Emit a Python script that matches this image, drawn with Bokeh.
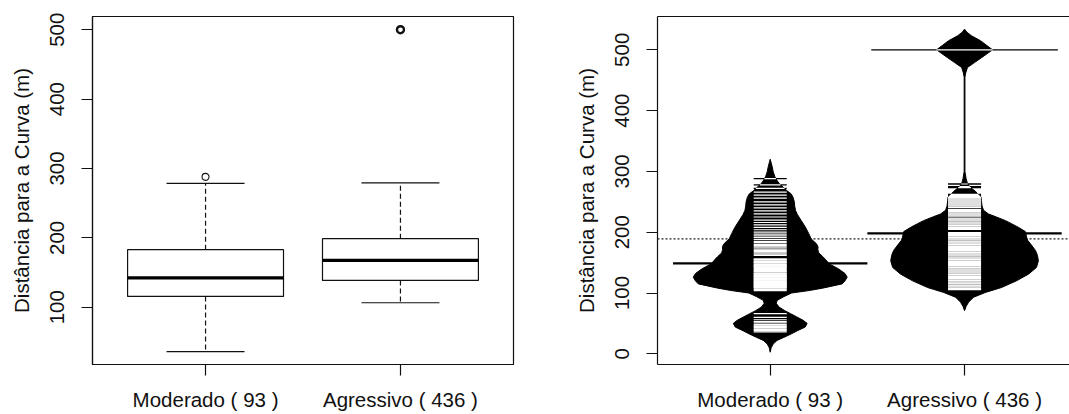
import numpy as np
from bokeh.plotting import figure
from bokeh.layouts import row
from bokeh.models import FixedTicker, Range1d, Span, LinearAxis
from bokeh.embed import file_html
from bokeh.resources import INLINE

# ---------------- data ----------------
categories = ["Moderado", "Agressivo"]
group_sizes = [93, 436]
positions = [1, 2]
tick_labels = {p: f"{c} ( {n} )" for p, c, n in zip(positions, categories, group_sizes)}
y_title = "Distância para a Curva (m)"
y_ticks_left = [100, 200, 300, 400, 500]
y_ticks_right = [0, 100, 200, 300, 400, 500]

# boxplot statistics (left panel)
box_lower_whisker = [36.1, 106.5]
box_q1 = [115.6, 138.7]
box_median = [142.2, 167.6]
box_q3 = [183.0, 198.8]
box_upper_whisker = [278.4, 279.3]
outlier_group = [1, 2]
outlier_value = [287.9, 500.0]
outlier_count = [1, 35]

# beanplot (right panel)
bean_means = [148.8, 198.2]
overall_mean = 189.0

moderado_density_y = [2.6, 10, 16, 22, 27, 33, 38, 44, 50, 55, 61, 66, 71, 77, 83, 88, 94, 100,
                      104, 108, 115, 120, 126, 132, 140, 148, 155, 160, 166, 171, 176, 181, 189,
                      198, 209, 219, 229, 236, 243, 250, 257, 263, 268, 274, 280, 286, 292, 300,
                      308, 314, 320]
moderado_density_w = [0, 0.005, 0.015, 0.035, 0.07, 0.11, 0.14, 0.18, 0.19, 0.17, 0.135, 0.105,
                      0.075, 0.045, 0.031, 0.036, 0.07, 0.11, 0.2, 0.27, 0.37, 0.385, 0.396, 0.385,
                      0.35, 0.303, 0.285, 0.27, 0.25, 0.245, 0.246, 0.238, 0.211, 0.198, 0.18,
                      0.16, 0.14, 0.13, 0.126, 0.124, 0.118, 0.108, 0.087, 0.067, 0.046, 0.033,
                      0.023, 0.015, 0.010, 0.005, 0]

agressivo_density_y = [71, 78, 85, 93, 101, 109, 120, 131, 142, 153, 162, 170, 181, 187, 192, 197,
                       201, 208, 214, 219, 225, 230, 236, 243, 252, 258, 263, 267, 271, 275, 280,
                       288, 300, 455, 462, 471, 479, 487, 494, 500, 507, 515, 523, 529, 534]
agressivo_density_w = [0, 0.008, 0.021, 0.046, 0.108, 0.19, 0.267, 0.329, 0.37, 0.38, 0.375, 0.365,
                       0.339, 0.324, 0.319, 0.316, 0.313, 0.277, 0.242, 0.211, 0.164, 0.123, 0.098,
                       0.09, 0.087, 0.085, 0.067, 0.057, 0.041, 0.026, 0.015, 0.008, 0.002, 0.002,
                       0.006, 0.015, 0.051, 0.087, 0.118, 0.144, 0.115, 0.082, 0.036, 0.012, 0]

moderado_values = [36, 38, 40, 41, 43, 45, 46, 48, 51, 53, 56, 60, 66,
                   104, 106, 108, 109, 110, 111, 112, 113, 114, 115,
                   116, 117, 118, 119, 120, 121, 122, 123, 124, 125, 126, 127, 128, 129, 130, 131,
                   132, 133, 135, 136, 137, 139, 140,
                   142, 143, 144, 145, 146, 147, 149, 150, 151, 152, 154, 155, 156, 162, 164, 166,
                   168, 170, 172, 174, 176, 178, 180,
                   183, 185, 188, 191, 194, 197, 200, 204, 208, 212, 216, 220, 225, 230, 235, 240,
                   245, 250, 256, 261, 266, 272, 278, 288]

agressivo_values = [105.6, 107.2, 108.5, 110.3, 111.8, 113.1, 114.9, 116.4, 117.7, 119.5, 120.8,
                    122.6, 124.0, 125.3, 127.1, 128.4, 130.2, 131.5, 133.3, 134.6, 136.4, 137.8,
                    139.1, 140.9, 142.2, 144.0, 145.3, 147.1, 148.6, 149.9, 151.7, 153.0, 154.8,
                    156.1, 157.9, 159.2, 161.0, 162.5, 163.8, 165.6, 166.9, 168.7, 170.0, 171.8,
                    173.3, 174.6, 176.4, 177.7, 179.5, 180.8, 182.6, 184.1, 185.4, 187.2, 188.5,
                    190.3, 191.6, 193.4, 194.9, 196.2, 198.0, 199.3,
                    204.5, 205.9, 207.6, 209.0, 210.8, 212.1, 213.9, 215.3, 216.8, 218.4, 219.9,
                    221.5, 223.0, 226.6, 228.1, 229.7, 231.2, 232.8, 234.3, 235.9, 237.2,
                    240.4, 241.9, 243.5, 245.0, 246.6, 248.1, 249.7, 251.2, 252.8, 254.3, 255.9,
                    257.4, 259.0, 260.5, 262.1, 273.2, 275.1, 279.3]
agressivo_tie_values = [500.0]
agressivo_tie_counts = [35]

# ---------------- style ----------------
FONT = "Liberation Sans"
FS = "20.5px"
INK = "#111111"
H = 414
TOP = 16
FRAME_H = 348


def style_axes(p, yticks):
    p.xaxis.ticker = FixedTicker(ticks=positions)
    p.xaxis.major_label_overrides = tick_labels
    p.yaxis.ticker = FixedTicker(ticks=yticks)
    p.yaxis.major_label_orientation = "parallel"
    p.yaxis.axis_label = y_title
    for ax in (p.xaxis[0], p.yaxis[0]):
        ax.axis_line_color = INK
        ax.axis_line_width = 1.2
        ax.major_tick_line_color = INK
        ax.major_tick_line_width = 1.2
        ax.major_tick_out = 11
        ax.major_tick_in = 0
        ax.minor_tick_line_color = None
        ax.major_label_text_font = FONT
        ax.major_label_text_font_size = FS
        ax.major_label_text_color = INK
        ax.axis_label_text_font = FONT
        ax.axis_label_text_font_size = FS
        ax.axis_label_text_font_style = "normal"
        ax.axis_label_text_color = INK
    p.xaxis.major_label_standoff = 12
    p.yaxis.major_label_standoff = 17
    p.yaxis.axis_label_standoff = 15
    p.xgrid.visible = False
    p.ygrid.visible = False


# ---------------- left: boxplot ----------------
W1 = 538
p1 = figure(width=W1, height=H, output_backend="svg", toolbar_location=None,
            x_range=Range1d(0.42, 2.58), y_range=Range1d(17.5, 519.0),
            min_border_left=92, min_border_right=25, min_border_top=TOP,
            min_border_bottom=H - TOP - FRAME_H)
p1.outline_line_color = INK
p1.outline_line_width = 1.2
style_axes(p1, y_ticks_left)

xs = np.array(positions, dtype=float)
# whiskers (dashed)
p1.segment(x0=xs, x1=xs, y0=box_q3, y1=box_upper_whisker, line_color=INK, line_width=1.2, line_dash="5 3")
p1.segment(x0=xs, x1=xs, y0=box_q1, y1=box_lower_whisker, line_color=INK, line_width=1.2, line_dash="5 3")
# staples
p1.segment(x0=xs - 0.2, x1=xs + 0.2, y0=box_upper_whisker, y1=box_upper_whisker, line_color=INK, line_width=1.2)
p1.segment(x0=xs - 0.2, x1=xs + 0.2, y0=box_lower_whisker, y1=box_lower_whisker, line_color=INK, line_width=1.2)
# boxes
p1.quad(left=xs - 0.4, right=xs + 0.4, bottom=box_q1, top=box_q3, fill_color="white",
        line_color=INK, line_width=1.2)
p1.segment(x0=xs - 0.4, x1=xs + 0.4, y0=box_median, y1=box_median, line_color="black", line_width=3.2)
# outliers
out_lw = [1.1 if n == 1 else 2.4 for n in outlier_count]
p1.scatter(x=outlier_group, y=outlier_value, marker="circle", size=7, fill_color=None,
           line_color=INK, line_width=out_lw)

# ---------------- right: beanplot ----------------
W2 = 1069 - W1
p2 = figure(width=W2, height=H, output_backend="svg", toolbar_location=None,
            x_range=Range1d(0.42, 2.54), y_range=Range1d(-17.6, 554.8),
            min_border_left=657 - W1, min_border_right=0, min_border_top=TOP,
            min_border_bottom=H - TOP - FRAME_H)
p2.outline_line_color = None
style_axes(p2, y_ticks_right)
top_axis = LinearAxis(ticker=FixedTicker(ticks=[]), major_tick_out=0, major_tick_in=0,
                      minor_tick_out=0, minor_tick_in=0, major_label_standoff=0,
                      axis_line_color=INK, axis_line_width=1.2, major_label_text_font_size="0px")
p2.add_layout(top_axis, "above")

p2.add_layout(Span(location=overall_mean, dimension="width", line_color="#222222", line_width=1.3,
                   line_dash="2 2", level="underlay"))

STRIP_HALF = 0.085
STRIP_MAX_HALF = 0.48

groups = [
    (moderado_density_y, moderado_density_w, moderado_values, [1] * len(moderado_values)),
    (agressivo_density_y, agressivo_density_w, agressivo_values + agressivo_tie_values,
     [1] * len(agressivo_values) + agressivo_tie_counts),
]

for pos, mean, (dy, dw, vals, cnts) in zip(positions, bean_means, groups):
    dy = np.array(dy, dtype=float)
    dw = np.array(dw, dtype=float)
    bx = np.concatenate([pos - dw, (pos + dw)[::-1]])
    by = np.concatenate([dy, dy[::-1]])
    p2.patch(bx, by, fill_color="black", line_color="black", line_width=1)

    p2.segment(x0=[pos - 0.5], x1=[pos + 0.5], y0=[mean], y1=[mean], line_color="black", line_width=2.2)

    wx0, wx1, wy = [], [], []
    kx0, kx1, ky = [], [], []
    for v, c in zip(vals, cnts):
        half = min(STRIP_HALF * c, STRIP_MAX_HALF)
        bw = float(np.interp(v, dy, dw))
        inner = min(half, bw)
        if inner > 0:
            wx0.append(pos - inner); wx1.append(pos + inner); wy.append(v)
        if half > bw:
            kx0 += [pos - half, pos + bw]; kx1 += [pos - bw, pos + half]; ky += [v, v]
    p2.segment(x0=kx0, x1=kx1, y0=ky, y1=ky, line_color="black", line_width=1.3)
    p2.segment(x0=wx0, x1=wx1, y0=wy, y1=wy, line_color="white", line_width=1.2)

layout = row(p1, p2)
open("out.html", "w").write(file_html(layout, INLINE))
